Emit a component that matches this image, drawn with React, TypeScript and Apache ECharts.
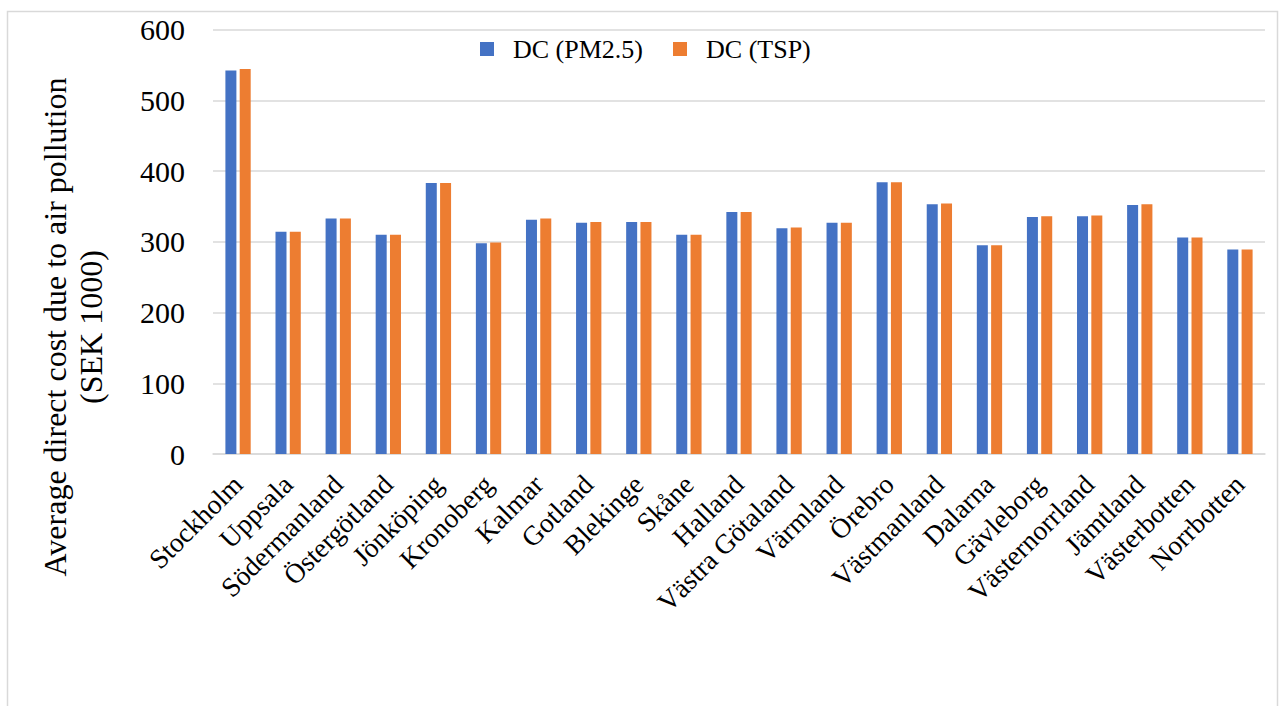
import React, { useEffect, useRef } from "react";
import * as echarts from "echarts";

// Swedish counties (län)
const counties: string[] = [
  "Stockholm",
  "Uppsala",
  "Södermanland",
  "Östergötland",
  "Jönköping",
  "Kronoberg",
  "Kalmar",
  "Gotland",
  "Blekinge",
  "Skåne",
  "Halland",
  "Västra Götaland",
  "Värmland",
  "Örebro",
  "Västmanland",
  "Dalarna",
  "Gävleborg",
  "Västernorrland",
  "Jämtland",
  "Västerbotten",
  "Norrbotten",
];

// Average direct cost due to air pollution, SEK 1000
const dcPm25: number[] = [
  542, 314, 333, 310, 383, 298, 331, 327, 328, 310, 342,
  319, 327, 384, 353, 295, 335, 336, 352, 306, 289,
];
const dcTsp: number[] = [
  544, 314, 333, 310, 383, 299, 333, 328, 328, 310, 342,
  320, 327, 384, 354, 295, 336, 337, 353, 306, 289,
];

const seriesNames: string[] = ["DC (PM2.5)", "DC (TSP)"];
const yTitleLines: string[] = [
  "Average direct cost due to air pollution",
  "(SEK 1000)",
];

const SERIF = "'Liberation Serif', 'Times New Roman', Times, serif";

export default function App() {
  const ref = useRef<HTMLDivElement>(null);

  useEffect(() => {
    if (!ref.current) return;
    const chart = echarts.init(ref.current, null, { renderer: "svg" });
    chart.setOption({
      animation: false,
      backgroundColor: "#ffffff",
      color: ["#4472C4", "#ED7D31"],
      textStyle: { fontFamily: SERIF },
      graphic: [
        {
          type: "rect",
          shape: { x: 7.5, y: 11.5, width: 1270, height: 720 },
          style: { fill: "none", stroke: "#d9d9d9", lineWidth: 1.5 },
          silent: true,
        },
        {
          type: "text",
          x: 73,
          y: 327,
          rotation: Math.PI / 2,
          style: {
            text: yTitleLines.join("\n"),
            font: `32px ${SERIF}`,
            fill: "#000",
            align: "center",
            verticalAlign: "middle",
            lineHeight: 36,
          },
        },
      ],
      legend: {
        data: seriesNames,
        top: 29,
        left: 475,
        icon: "rect",
        itemWidth: 14,
        itemHeight: 14,
        itemGap: 30,
        textStyle: {
          fontFamily: SERIF,
          fontSize: 26,
          color: "#000",
          lineHeight: 30,
          padding: [0, 0, 0, 14],
        },
      },
      grid: {
        left: 213,
        right: 15,
        top: 29.5,
        bottom: 252,
        containLabel: false,
      },
      xAxis: {
        type: "category",
        data: counties,
        axisLine: { lineStyle: { color: "#d9d9d9", width: 1.5 } },
        axisTick: { show: false },
        axisLabel: {
          interval: 0,
          rotate: 45,
          margin: 26,
          fontFamily: SERIF,
          fontSize: 27.5,
          color: "#000",
        },
      },
      yAxis: {
        type: "value",
        min: 0,
        max: 600,
        interval: 100,
        axisLine: { show: false },
        axisTick: { show: false },
        splitLine: { lineStyle: { color: "#d9d9d9", width: 1.5 } },
        axisLabel: {
          margin: 28,
          fontFamily: SERIF,
          fontSize: 30,
          color: "#000",
        },
      },
      series: [
        {
          name: seriesNames[0],
          type: "bar",
          data: dcPm25,
          barWidth: 11,
          barGap: "30%",
        },
        {
          name: seriesNames[1],
          type: "bar",
          data: dcTsp,
          barWidth: 11,
          barGap: "30%",
        },
      ],
    });
    return () => chart.dispose();
  }, []);

  return (
    <div
      ref={ref}
      style={{
        position: "fixed",
        left: 0,
        top: 0,
        width: 1280,
        height: 706,
      }}
    />
  );
}
